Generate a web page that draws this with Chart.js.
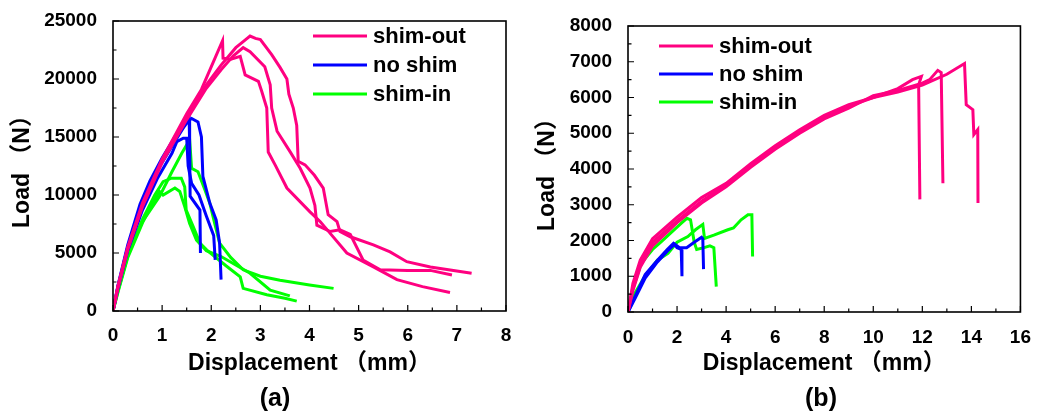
<!DOCTYPE html>
<html>
<head>
<meta charset="utf-8">
<script src="https://cdn.jsdelivr.net/npm/chart.js@4.4.0/dist/chart.umd.min.js"></script>
<style>
  html, body { margin: 0; padding: 0; background: #fff; }
  #wrap { position: relative; width: 1037px; height: 415px; }
  canvas { position: absolute; top: 0; }
  #chartA { left: 0; }
  #chartB { left: 520px; }
</style>
</head>
<body>
<div id="wrap">
  <canvas id="chartA" width="520" height="415"></canvas>
  <canvas id="chartB" width="517" height="415"></canvas>
</div>
<script>
// ---- data, panel (a): [displacement mm, load N] ----
const aShimOut1 = [[0,0],[0.1,2100],[0.3,5400],[0.6,9100],[1.0,12900],[1.5,16700],[1.9,19500],[2.2,21200],[2.5,22700],[2.7,23400],[2.79,23700],[2.9,23500],[3.0,23400],[3.23,22100],[3.4,21000],[3.54,20000],[3.58,18700],[3.67,17500],[3.74,16000],[3.77,12900],[3.91,12600],[4.1,11700],[4.28,10600],[4.38,8300],[4.56,7700],[4.62,6850],[4.83,6400],[5.3,5700],[5.64,5100],[5.98,4250],[6.46,3800],[7.3,3250]];
const aShimOut2 = [[0,0],[0.1,2000],[0.3,5300],[0.6,9000],[1.0,12800],[1.5,16500],[1.9,19200],[2.2,20800],[2.45,22000],[2.65,22700],[2.79,22350],[3.09,21050],[3.2,19500],[3.23,17500],[3.34,15500],[3.61,13700],[3.81,12300],[4.01,10600],[4.11,9100],[4.15,7400],[4.42,6850],[4.62,7000],[4.83,6600],[5.09,4400],[5.44,3550],[6.0,3500],[6.46,3500],[6.9,3100]];
const aShimOut3 = [[0,0],[0.1,2100],[0.3,5500],[0.6,9300],[1.0,13100],[1.5,17000],[1.8,19100],[2.23,23300],[2.24,21800],[2.4,21700],[2.59,21950],[2.69,20350],[2.96,19800],[3.03,18900],[3.13,17500],[3.16,13700],[3.3,12600],[3.54,10600],[4.01,8550],[4.22,7700],[4.4,6800],[4.76,5000],[5.3,3800],[5.78,2700],[6.3,2100],[6.86,1600]];
const aNoShim1 = [[0,0],[0.1,2200],[0.3,5700],[0.55,9200],[0.75,11200],[1.0,13200],[1.3,15300],[1.5,16300],[1.6,16600],[1.73,16300],[1.8,15000],[1.83,11600],[1.97,9300],[2.1,7850],[2.17,5850],[2.2,2700]];
const aNoShim2 = [[0,0],[0.1,2100],[0.3,5500],[0.6,9300],[0.9,12100],[1.2,14200],[1.45,15900],[1.55,16500],[1.56,14500],[1.57,9900],[1.77,8700],[1.78,5000]];
const aNoShim3 = [[0,0],[0.1,1900],[0.3,5200],[0.6,8700],[0.9,11400],[1.2,13600],[1.3,14600],[1.43,14900],[1.5,14900],[1.53,12500],[1.6,11000],[1.75,10000],[1.9,8200],[2.05,6500],[2.08,4400]];
const aShimIn1 = [[0,0],[0.1,1800],[0.34,5300],[0.6,7700],[0.95,9900],[1.2,12000],[1.4,13600],[1.56,14750],[1.6,12300],[1.73,12000],[1.87,10450],[1.97,9300],[2.07,7550],[2.17,5850],[2.4,4600],[2.65,3550],[3.0,3000],[3.4,2650],[4.0,2250],[4.49,1950]];
const aShimIn2 = [[0,0],[0.1,1700],[0.3,4800],[0.6,7900],[0.85,10000],[1.02,11150],[1.19,11450],[1.39,11450],[1.46,10700],[1.49,8700],[1.63,7300],[1.77,5850],[1.91,5250],[2.3,3900],[2.59,2950],[2.65,1950],[3.13,1400],[3.5,1100],[3.74,850]];
const aShimIn3 = [[0,0],[0.1,1600],[0.3,4600],[0.6,7600],[0.8,9300],[0.95,10300],[1.02,10000],[1.26,10600],[1.36,10300],[1.46,9000],[1.56,7550],[1.7,6100],[1.9,5200],[2.2,4700],[2.79,3250],[3.2,1800],[3.6,1300]];

// ---- data, panel (b) ----
const bShimOut1 = [[0,0],[0.2,700],[0.5,1350],[1.0,1950],[1.5,2250],[2.0,2550],[3.0,3100],[4.0,3550],[5.0,4100],[6.0,4600],[7.0,5050],[8.0,5450],[9.0,5750],[10.0,6000],[11.0,6250],[11.6,6500],[11.96,6590],[11.85,6350],[11.9,3150]];
const bShimOut2 = [[0,0],[0.2,600],[0.5,1250],[1.0,1850],[2.0,2500],[3.0,3050],[4.0,3500],[5.0,4050],[6.0,4550],[7.0,5000],[8.0,5400],[9.0,5700],[10.0,6050],[11.0,6200],[12.0,6400],[12.3,6500],[12.63,6760],[12.77,6700],[12.84,3600]];
const bShimOut3 = [[0,0],[0.2,800],[0.5,1450],[1.0,2050],[2.0,2650],[3.0,3200],[4.0,3600],[5.0,4150],[6.0,4650],[7.0,5100],[8.0,5500],[9.0,5800],[10.0,6000],[11.0,6150],[12.0,6350],[13.0,6650],[13.72,6950],[13.79,5800],[14.06,5660],[14.1,4960],[14.26,5100],[14.27,3050]];
const bNoShim1 = [[0,0],[0.3,450],[0.7,1050],[1.2,1450],[1.6,1750],[1.85,1920],[2.0,1800],[2.17,1750],[2.2,1000]];
const bNoShim2 = [[0,0],[0.3,400],[0.7,950],[1.2,1400],[1.6,1700],[1.9,1900],[2.1,1800],[2.39,1800],[2.7,1950],[3.0,2090],[3.05,2050],[3.08,1200]];
const bShimIn1 = [[0,0],[0.2,650],[0.54,1360],[1.0,1750],[1.36,1970],[1.8,2250],[2.2,2500],[2.4,2620],[2.55,2580],[2.7,1950],[2.8,1750],[3.1,1800],[3.34,1850],[3.5,1800],[3.6,710]];
const bShimIn2 = [[0,0],[0.3,550],[0.68,990],[1.2,1450],[1.63,1640],[2.0,1950],[2.44,2110],[2.75,2300],[3.05,2450],[3.12,2060],[3.5,2150],[4.07,2300],[4.3,2350],[4.61,2580],[4.89,2720],[5.05,2720],[5.08,1550]];

const seriesNames = ['shim-out', 'no shim', 'shim-in'];
const seriesColors = ['#FF0080', '#0000FF', '#00FF00'];

const FONT = 'Arial, "Liberation Sans", "Noto Sans CJK SC", sans-serif';
Chart.defaults.font.family = FONT;
Chart.defaults.font.weight = 'bold';
Chart.defaults.color = '#000';

function curve(points, group) {
  return {
    label: seriesNames[group],
    data: points.map(p => ({ x: p[0], y: p[1] })),
    borderColor: seriesColors[group],
    borderWidth: 3,
    pointRadius: 0,
    tension: 0,
    fill: false
  };
}

// frame, inward ticks, legend and panel label
const decor = {
  id: 'decor',
  afterDraw(chart, args, o) {
    const { ctx, chartArea: a, scales: { x, y } } = chart;
    ctx.save();
    ctx.strokeStyle = '#000';
    ctx.lineWidth = 1.2;
    ctx.beginPath();
    for (let v = x.min; v <= x.max + 1e-9; v += o.xStep / 2) {
      const px = x.getPixelForValue(v);
      const len = Math.abs(v / o.xStep - Math.round(v / o.xStep)) < 1e-6 ? 6 : 3.5;
      ctx.moveTo(px, a.bottom); ctx.lineTo(px, a.bottom - len);
    }
    for (let v = y.min; v <= y.max + 1e-9; v += o.yStep / 2) {
      const py = y.getPixelForValue(v);
      const len = Math.abs(v / o.yStep - Math.round(v / o.yStep)) < 1e-6 ? 6 : 3.5;
      ctx.moveTo(a.left, py); ctx.lineTo(a.left + len, py);
    }
    ctx.stroke();
    ctx.lineWidth = 1.6;
    ctx.strokeRect(a.left, a.top, a.right - a.left, a.bottom - a.top);

    // legend
    ctx.font = 'bold 22px ' + FONT;
    ctx.textBaseline = 'middle';
    ctx.textAlign = 'left';
    seriesNames.forEach((name, i) => {
      const ly = a.top + o.legY + i * o.legGap;
      const lx = a.left + o.legX;
      ctx.strokeStyle = seriesColors[i];
      ctx.lineWidth = 3;
      ctx.beginPath(); ctx.moveTo(lx, ly); ctx.lineTo(lx + 54, ly); ctx.stroke();
      ctx.fillStyle = '#000';
      ctx.fillText(name, lx + 60, ly + 1);
    });

    ctx.font = 'bold 25px ' + FONT;
    ctx.textAlign = 'center';
    ctx.fillText(o.panel, o.panelX, 399);
    ctx.restore();
  }
};

function makeChart(id, datasets, cfg) {
  return new Chart(document.getElementById(id), {
    type: 'line',
    data: { datasets },
    plugins: [decor],
    options: {
      responsive: false,
      animation: false,
      layout: { padding: { left: 0, right: cfg.padRight, top: cfg.padTop, bottom: 30 } },
      plugins: {
        legend: { display: false },
        tooltip: { enabled: false },
        decor: cfg.decor
      },
      scales: {
        x: {
          type: 'linear', min: 0, max: cfg.xMax,
          grid: { display: false }, border: { display: false },
          ticks: { stepSize: cfg.decor.xStep, padding: cfg.xPad, font: { size: 19, weight: 'bold' }, callback: v => String(v) },
          title: { display: true, text: 'Displacement （mm）', font: { size: 23, weight: 'bold' }, padding: { top: 0, bottom: 8 } },
          afterFit: s => { s.height = cfg.xHeight; }
        },
        y: {
          type: 'linear', min: 0, max: cfg.yMax,
          grid: { display: false }, border: { display: false },
          ticks: { stepSize: cfg.decor.yStep, padding: 8, font: { size: 19, weight: 'bold' }, callback: v => String(v) },
          title: { display: true, text: 'Load （N）', font: { size: 23, weight: 'bold' }, padding: { top: cfg.yTitlePad, bottom: 0 } },
          afterFit: s => { s.width = cfg.yWidth; }
        }
      }
    }
  });
}

makeChart('chartA', [
  curve(aShimOut1, 0), curve(aShimOut2, 0), curve(aShimOut3, 0),
  curve(aNoShim1, 1), curve(aNoShim2, 1), curve(aNoShim3, 1),
  curve(aShimIn1, 2), curve(aShimIn2, 2), curve(aShimIn3, 2)
], {
  padRight: 14, padTop: 21, xHeight: 74, yWidth: 113, xPad: 5, yTitlePad: 9,
  xMax: 8, yMax: 25000,
  decor: { xStep: 1, yStep: 5000, legX: 200, legY: 15, legGap: 29, panel: '(a)', panelX: 275 }
});

makeChart('chartB', [
  curve(bShimOut1, 0), curve(bShimOut2, 0), curve(bShimOut3, 0),
  curve(bNoShim1, 1), curve(bNoShim2, 1),
  curve(bShimIn1, 2), curve(bShimIn2, 2)
], {
  padRight: 16, padTop: 26, xHeight: 73, yWidth: 108, xPad: 6, yTitlePad: 14,
  xMax: 16, yMax: 8000,
  decor: { xStep: 2, yStep: 1000, legX: 31, legY: 20, legGap: 28, panel: '(b)', panelX: 301 }
});
</script>
</body>
</html>
